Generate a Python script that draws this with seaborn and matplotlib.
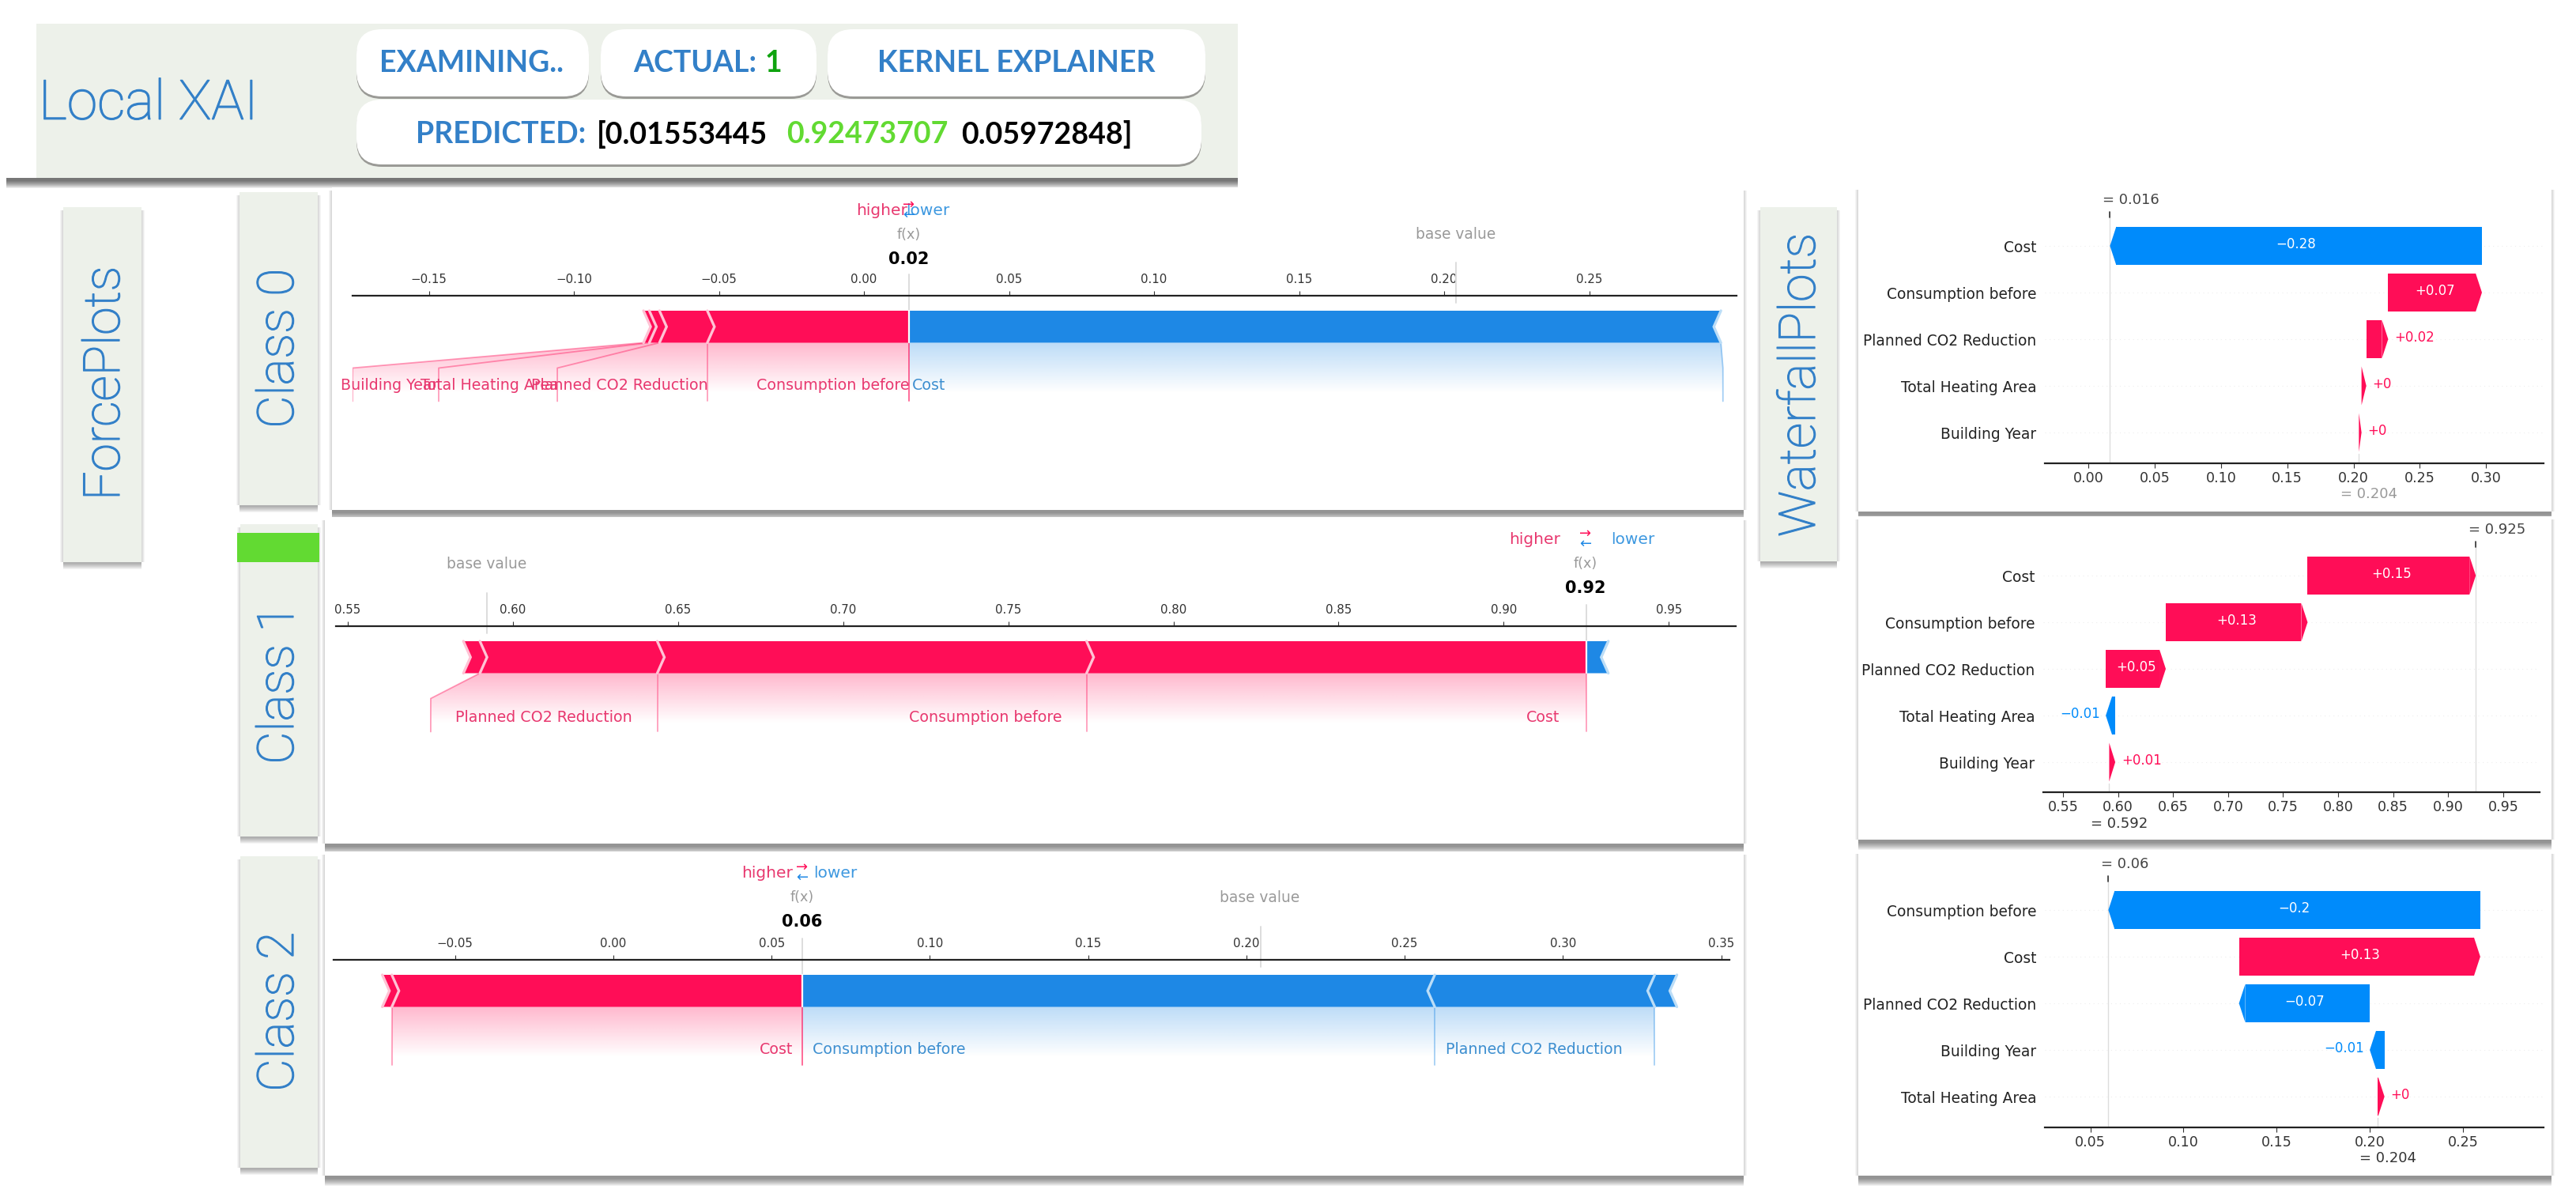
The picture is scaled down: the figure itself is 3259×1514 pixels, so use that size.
import numpy as np
import pandas as pd
import matplotlib
matplotlib.use("Agg")
import matplotlib.pyplot as plt
import matplotlib.patheffects as pe
from matplotlib.patches import Rectangle, FancyBboxPatch, Polygon
import seaborn as sns

sns.set_theme(style="white")
plt.rcParams["font.family"] = ["DejaVu Sans"]

W, H = 3259, 1514
PINK = "#FF0D57"
BLUE = "#1E88E5"
WF_BLUE = "#008BFB"
PALE_PINK = "#FFC3D5"
PALE_BLUE = "#BBDDF7"
BAND = "#EDF1EA"
TITLE = "#3380C8"

# force plot data, contributions run outwards from f(x)
f0_fx = 0.0154
f0_base = 0.204
f0_pink = [0.0694, 0.0165, 0.0035, 0.0020]
f0_blue = [0.2800]
f0_pink_anchor = [0.0154, -0.0540, -0.1057, -0.1466, -0.1763]
f0_blue_anchor = [0.0154, 0.2961]
f0_ticks = [-0.15, -0.10, -0.05, 0.00, 0.05, 0.10, 0.15, 0.20, 0.25]
f0_xlim = (-0.1763, 0.3008)

f1_fx = 0.925
f1_base = 0.592
f1_pink = [0.1513, 0.1300, 0.0537, 0.0050]
f1_blue = [0.0067]
f1_pink_anchor = [0.925, 0.7737, 0.6437, 0.5751]
f1_blue_anchor = []
f1_ticks = [0.55, 0.60, 0.65, 0.70, 0.75, 0.80, 0.85, 0.90, 0.95]
f1_xlim = (0.5464, 0.9703)

f2_fx = 0.0597
f2_base = 0.2045
f2_pink = [0.1297, 0.0030]
f2_blue = [0.1998, 0.0695, 0.0070]
f2_pink_anchor = [0.0597, -0.0700]
f2_blue_anchor = [0.0597, 0.2595, 0.3290]
f2_ticks = [-0.05, 0.00, 0.05, 0.10, 0.15, 0.20, 0.25, 0.30, 0.35]
f2_xlim = (-0.0884, 0.3526)

# waterfall data, top row first
w0_labels = ["Cost", "Consumption before", "Planned CO2 Reduction", "Total Heating Area", "Building Year"]
w0_shap = [-0.2805, 0.0707, 0.0165, 0.0036, 0.0020]
w0_ticks = [0.00, 0.05, 0.10, 0.15, 0.20, 0.25, 0.30]
w0_xlim = (-0.0328, 0.3433)

w1_labels = ["Cost", "Consumption before", "Planned CO2 Reduction", "Total Heating Area", "Building Year"]
w1_shap = [0.1528, 0.1288, 0.0545, -0.0086, 0.0055]
w1_ticks = [0.55, 0.60, 0.65, 0.70, 0.75, 0.80, 0.85, 0.90, 0.95]
w1_xlim = (0.5321, 0.9830)

w2_labels = ["Consumption before", "Cost", "Planned CO2 Reduction", "Building Year", "Total Heating Area"]
w2_shap = [-0.1996, 0.1295, -0.0702, -0.0079, 0.0039]
w2_ticks = [0.05, 0.10, 0.15, 0.20, 0.25]
w2_xlim = (0.0256, 0.2933)

fig = plt.figure(figsize=((W + 0.01) / 100, (H + 0.01) / 100), dpi=100, facecolor="white")


def px_axes(x0, y0, x1, y1, z):
    ax = fig.add_axes([x0 / W, 1 - y1 / H, (x1 - x0) / W, (y1 - y0) / H], zorder=z)
    ax.patch.set_visible(False)
    return ax


def overlay(z):
    ax = px_axes(0, 0, W, H, z)
    ax.set_xlim(0, W)
    ax.set_ylim(H, 0)
    ax.axis("off")
    return ax


bg = overlay(0)
fg = overlay(5)


def shadow(x0, y0, x1, y1, drop=3, spread=10, strength=0.5):
    # soft shadow under the lower edge, the sides only get a hint of it
    for i in range(spread, 0, -1):
        bg.add_patch(Rectangle((x0, y0), x1 - x0, y1 - y0 + drop + i, fc="black", ec="none", alpha=strength / spread))
    for i in range(4, 0, -1):
        bg.add_patch(Rectangle((x0 - i, y0 + 4), x1 - x0 + 2 * i, y1 - y0 - 4, fc="black", ec="none", alpha=0.04))


def card(x0, y0, x1, y1, color="white", **kw):
    shadow(x0, y0, x1, y1, **kw)
    bg.add_patch(Rectangle((x0, y0), x1 - x0, y1 - y0, fc=color, ec="none"))


def pill(x0, y0, x1, y1):
    bg.add_patch(FancyBboxPatch((x0, y0 + 3), x1 - x0, y1 - y0, boxstyle="round,pad=0,rounding_size=32",
                                fc="#9a9a96", ec="none", zorder=3))
    bg.add_patch(FancyBboxPatch((x0, y0), x1 - x0, y1 - y0, boxstyle="round,pad=0,rounding_size=32",
                                fc="white", ec="none", zorder=4))


def thin_title(x, y, text, size, rotation=0, ha="center"):
    t = fg.text(x, y, text, rotation=rotation, ha=ha, va="center", color=TITLE, fontsize=size,
                family=["Roboto", "Liberation Sans"], fontweight="light")
    t.set_path_effects([pe.withStroke(linewidth=0.9, foreground=TITLE)])


def side_label(x, y, text):
    thin_title(x, y, text, 46, rotation=90)


def head_text(x, y, text, color):
    fg.text(x, y, text, ha="left", va="center", color=color, fontsize=27, family=["Lato", "DejaVu Sans"],
            fontweight="bold")


def fmt_ticks(ticks):
    return [f"{t:.2f}".replace("-", "\u2212") for t in ticks]


def gradient(ax, pts, color, fade):
    rgba = np.zeros((64, 2, 4))
    rgba[..., :3] = matplotlib.colors.to_rgb(color)
    rgba[..., 3] = np.linspace(0.3, 0, 64)[:, None]
    xs = [p[0] for p in pts]
    ys = [p[1] for p in pts]
    img = ax.imshow(rgba, extent=[min(xs), max(xs), ys[0] + fade, ys[0]], aspect="auto",
                    interpolation="bilinear", zorder=1)
    img.set_clip_path(Polygon(pts, transform=ax.transData))


def force_panel(box, fx, base, pink, blue, pink_anchor, blue_anchor, ticks, xlim):
    # box: left, axis line, right, panel top, panel bottom
    left, axis_y, right, top, bottom = box
    ax = px_axes(left, top, right, bottom, 2)
    ax.set_autoscale_on(False)
    ax.set_xlim(*xlim)
    ax.set_ylim(bottom - axis_y, top - axis_y)
    sns.despine(ax=ax, left=True, bottom=True, right=True, top=False)
    ax.spines["top"].set_position(("data", 0))
    ax.spines["top"].set_color("#222222")
    ax.spines["top"].set_linewidth(1.6)
    ax.xaxis.tick_top()
    ax.set_xticks(ticks, fmt_ticks(ticks))
    ax.tick_params(axis="x", length=4.5, width=0.8, color="#333333", pad=5, labelsize=10.8, labelcolor="#333333",
                   top=True, bottom=False)
    ax.set_yticks([])

    scale = (right - left) / (xlim[1] - xlim[0])
    head = 9 / scale
    y0, y1 = 19, 59.5
    ym = (y0 + y1) / 2
    ya, yb = y1 + 32, y1 + 74

    ax.plot([base, base], [-42, 9], color="#dddddd", lw=1.4, zorder=1)
    ax.plot([fx, fx], [-27, y0], color="#dddddd", lw=1.4, zorder=1)

    for values, anchors, color, pale, sign in ((pink, pink_anchor, PINK, PALE_PINK, -1),
                                               (blue, blue_anchor, BLUE, PALE_BLUE, 1)):
        edges = fx + sign * np.concatenate([[0], np.cumsum(values)])
        tip = -sign * head
        for i in range(len(values)):
            near, far = edges[i], edges[i + 1]
            near_tip = 0 if i == 0 else tip
            ax.fill([near, near + near_tip, near, far, far + tip, far],
                    [y0, ym, y1, y1, ym, y0], color=color, lw=0, zorder=3)
            if i + 1 < len(anchors):
                a0, a1 = anchors[i], anchors[i + 1]
                pts = [(near, y1), (far, y1), (a1, ya), (a1, yb), (a0, yb), (a0, ya)]
                gradient(ax, pts, color, 64)
                ax.plot([far, a1, a1], [y1, ya, yb], color=color, alpha=0.4, lw=1.3, zorder=2)
                if i == 0:
                    ax.plot([a0, a0], [y1, yb], color=PINK, alpha=0.4, lw=1.3, zorder=2)
        for e in edges[1:]:
            ax.plot([e, e + tip, e], [y0, ym, y1], color=pale, lw=2.4, zorder=4, solid_joinstyle="miter")
    ax.plot([fx, fx], [y0, y1], color="white", lw=1.6, zorder=4)
    ax.set_xlim(*xlim)
    ax.set_ylim(bottom - axis_y, top - axis_y)
    return ax


def waterfall_panel(box, labels, shap, base, ticks, xlim, base_color):
    # box: left, axis line, right, panel top, first row centre
    left, axis_y, right, top, row0 = box
    row = 59.0
    ax = px_axes(left, top, right, axis_y, 2)
    shap = np.array(shap)
    ends = base + np.cumsum(shap[::-1])[::-1]
    starts = ends - shap
    fx = ends[0]
    scale = (right - left) / (xlim[1] - xlim[0])
    head = 8 / scale

    body_left = np.where(shap > 0, starts, ends + head)
    body_width = np.maximum(np.abs(shap) - head, 0)
    df = pd.DataFrame({"feature": labels, "width": body_width})
    sns.barplot(data=df, y="feature", x="width", left=body_left, width=0.83, color=PINK, saturation=1,
                errorbar=None, linewidth=0, orient="h", ax=ax)
    half = 0.415
    for i, (s, e, v) in enumerate(zip(starts, ends, shap)):
        color = PINK if v > 0 else WF_BLUE
        ax.patches[i].set_facecolor(color)
        back = e - np.sign(v) * head if abs(v) > head else s
        ax.fill([back, e, back], [i - half, i, i + half], color=color, lw=0, zorder=3)
        txt = f"{round(float(v), 2):+g}".replace("-", "\u2212")
        if abs(v) * scale > 60:
            ax.text((s + e) / 2, i - 0.03, txt, color="white", ha="center", va="center", fontsize=12, zorder=4)
        elif v > 0:
            ax.text(e + 8 / scale, i - 0.03, txt, color=PINK, ha="left", va="center", fontsize=12)
        else:
            ax.text(e - 7 / scale, i - 0.03, txt, color=WF_BLUE, ha="right", va="center", fontsize=12)

    ylim = ((axis_y - row0) / row, (top - row0) / row)
    ax.hlines(range(5), *xlim, color="#eeeeee", lw=0.8, ls=(0, (1, 4)), zorder=0)
    ax.plot([fx, fx], [-0.73, ylim[0]], color="#dddddd", lw=1, zorder=1)
    ax.plot([fx, fx], [-0.73, -0.61], color="#333333", lw=1.2, zorder=2)
    ax.plot([base, base], [4.45, ylim[0]], color="#dddddd", lw=1, zorder=1)
    ax.text(fx - 9 / scale, -0.98, f"= {round(float(fx), 3):g}", color="#444444", ha="left", va="center", fontsize=13)
    ax.text(base - 23 / scale, 5.33, f"= {base:g}", color=base_color, ha="left", va="center", fontsize=13)

    ax.set_xlim(*xlim)
    ax.set_ylim(*ylim)
    ax.set_xlabel("")
    ax.set_ylabel("")
    ax.set_xticks(ticks, [f"{t:.2f}" for t in ticks])
    sns.despine(ax=ax, left=True)
    ax.spines["bottom"].set_color("#222222")
    ax.spines["bottom"].set_linewidth(1.6)
    ax.tick_params(axis="x", length=4, width=0.8, color="#333333", pad=3, labelsize=12.6, labelcolor="#333333", bottom=True)
    ax.tick_params(axis="y", length=0, pad=7.5, labelsize=13.4, labelcolor="#222222")
    return ax


# header band and pills
for i in range(10, 0, -1):
    bg.add_patch(Rectangle((8, 225), 1558, 3 + i, fc="black", ec="none", alpha=0.07))
bg.add_patch(Rectangle((46, 30), 1520, 195, fc=BAND, ec="none"))
thin_title(49, 132, "Local XAI", 50, ha="left")
pill(451, 37, 745, 122)
pill(760, 37, 1033, 122)
pill(1047, 37, 1525, 122)
pill(451, 126, 1520, 208)
head_text(480, 80, "EXAMINING..", TITLE)
head_text(801, 80, "ACTUAL:", TITLE)
head_text(968, 80, "1", "#0FA30F")
head_text(1110, 80, "KERNEL EXPLAINER", TITLE)
head_text(526, 170, "PREDICTED:", TITLE)
head_text(755, 170, "[0.01553445", "black")
head_text(995, 170, "0.92473707", "#62DA32")
head_text(1216, 170, "0.05972848]", "black")

# side bands
for band in [(80, 262, 179, 711), (303, 243, 402, 639), (304, 663, 402, 1058), (304, 1083, 402, 1477),
             (2227, 262, 2324, 710)]:
    card(*band, color=BAND, drop=1, spread=8, strength=0.35)
bg.add_patch(Rectangle((300, 674), 104, 37, fc="#62DA32", ec="none", zorder=2))
side_label(133, 485, "ForcePlots")
side_label(353, 441, "Class 0")
side_label(353, 866, "Class 1")
side_label(353, 1280, "Class 2")
side_label(2278, 487, "WaterfallPlots")

# panels
card(420, 237, 2206, 645)
card(411, 654, 2206, 1067)
card(411, 1077, 2206, 1487)
card(2351, 236, 3228, 647)
card(2351, 653, 3228, 1062)
card(2351, 1076, 3228, 1487)

force_panel((446, 374, 2197, 237, 645), f0_fx, f0_base, f0_pink, f0_blue, f0_pink_anchor, f0_blue_anchor, f0_ticks, f0_xlim)
force_panel((425, 792, 2196, 654, 1067), f1_fx, f1_base, f1_pink, f1_blue, f1_pink_anchor, f1_blue_anchor, f1_ticks, f1_xlim)
force_panel((422, 1214, 2188, 1077, 1487), f2_fx, f2_base, f2_pink, f2_blue, f2_pink_anchor, f2_blue_anchor, f2_ticks, f2_xlim)

waterfall_panel((2587, 586, 3218, 236, 311), w0_labels, w0_shap, 0.204, w0_ticks, w0_xlim, "#999999")
waterfall_panel((2585, 1002, 3213, 653, 728), w1_labels, w1_shap, 0.592, w1_ticks, w1_xlim, "#333333")
waterfall_panel((2587, 1426, 3218, 1076, 1151), w2_labels, w2_shap, 0.204, w2_ticks, w2_xlim, "#333333")


# force plot annotations
def force_text(x, y, text, color):
    fg.text(x, y, text, ha="left", va="center", color=color, fontsize=13.7)


def fx_block(xc, y, value, hi_x, lo_x):
    fg.text(hi_x, y, "higher", ha="left", va="center", color="#E8386F", fontsize=14.5)
    fg.text(lo_x, y, "lower", ha="left", va="center", color="#3D98E0", fontsize=14.5)
    fg.text(xc, y - 7, "\u2192", ha="center", va="center", color=PINK, fontsize=13)
    fg.text(xc, y + 6, "\u2190", ha="center", va="center", color=BLUE, fontsize=13)
    fg.text(xc, y + 31, "f(x)", ha="center", va="center", color="#999999", fontsize=12.6)
    fg.text(xc, y + 62, value, ha="center", va="center", color="black", fontsize=15, fontweight="bold")


fx_block(1150, 266, "0.02", 1083, 1146)
fx_block(2006, 682, "0.92", 1909, 2038)
fx_block(1015, 1104, "0.06", 938, 1029)
fg.text(1842, 296, "base value", ha="center", va="center", color="#999999", fontsize=13.4)
fg.text(616, 713, "base value", ha="center", va="center", color="#999999", fontsize=13.4)
fg.text(1594, 1135, "base value", ha="center", va="center", color="#999999", fontsize=13.4)

force_text(431, 487, "Building Year", "#E8386F")
force_text(532, 487, "Total Heating Area", "#E8386F")
force_text(672, 487, "Planned CO2 Reduction", "#E8386F")
force_text(957, 487, "Consumption before", "#E8386F")
force_text(1154, 487, "Cost", "#3D8FD0")
force_text(576, 907, "Planned CO2 Reduction", "#E8386F")
force_text(1150, 907, "Consumption before", "#E8386F")
force_text(1931, 907, "Cost", "#E8386F")
force_text(961, 1327, "Cost", "#E8386F")
force_text(1028, 1327, "Consumption before", "#3D8FD0")
force_text(1829, 1327, "Planned CO2 Reduction", "#3D8FD0")

fig.savefig("out.png", dpi=100)
